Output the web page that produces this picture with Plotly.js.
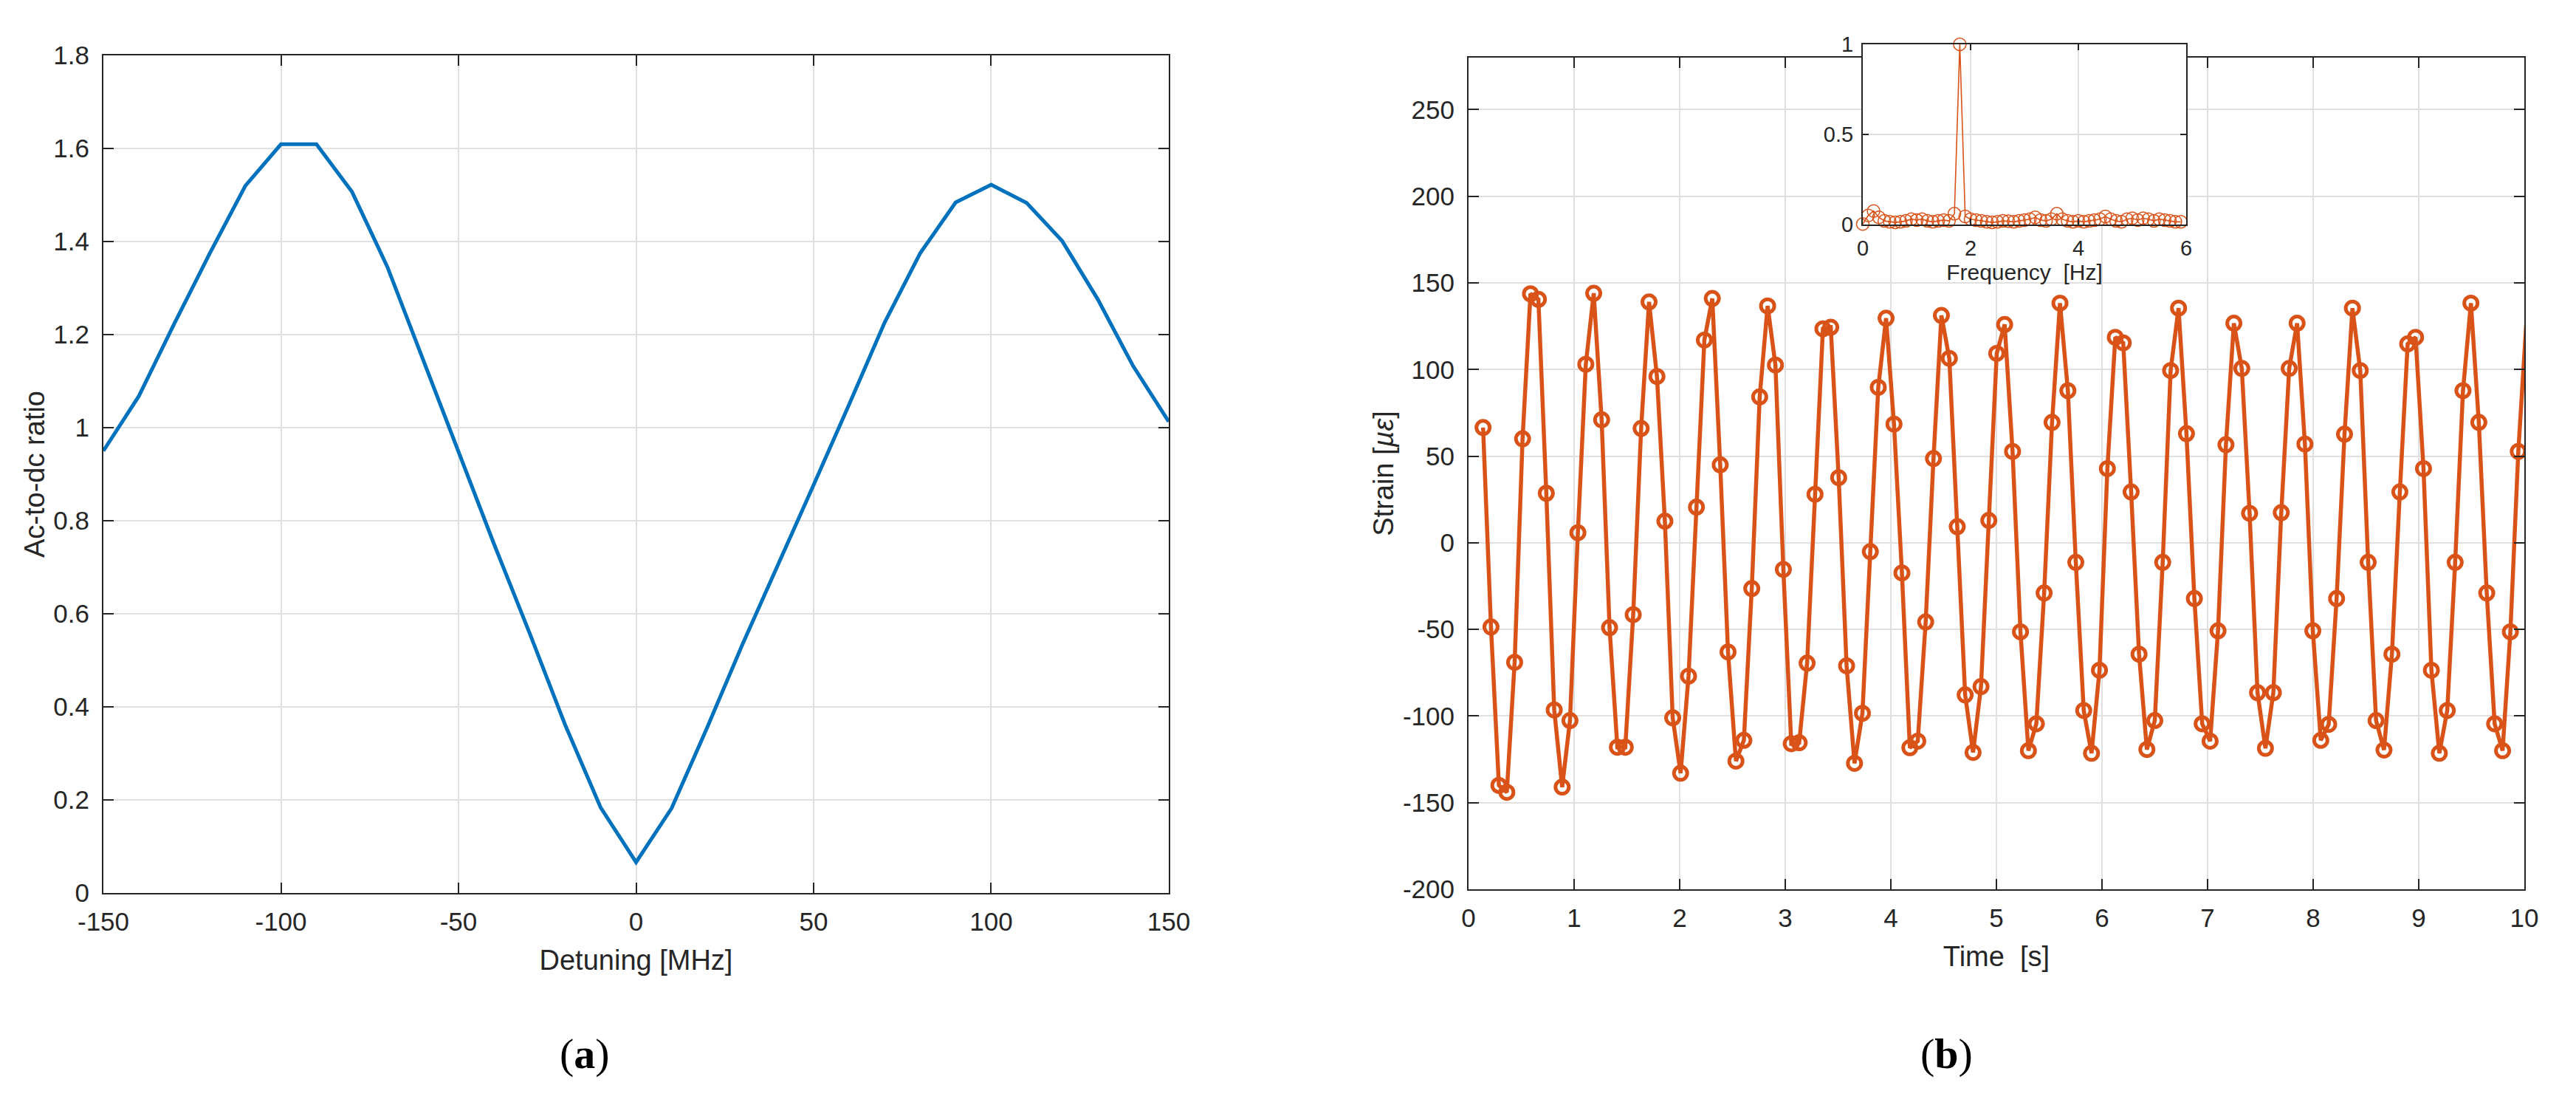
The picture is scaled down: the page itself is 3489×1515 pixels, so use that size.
<!DOCTYPE html>
<html>
<head>
<meta charset="utf-8">
<script src="https://cdn.plot.ly/plotly-3.0.1.min.js"></script>
<style>
  html, body { margin: 0; padding: 0; background: #ffffff; }
  #chart { width: 3489px; height: 1515px; }
</style>
</head>
<body>
<div id="chart"></div>
<script>
// ---------- Panel (a): Ac-to-dc ratio vs detuning ----------
var detuningMHz = [-150, -140, -130, -120, -110, -100, -90, -80, -70, -60, -50,
                   -40, -30, -20, -10, 0, 10, 20, 30, 40, 50,
                   60, 70, 80, 90, 100, 110, 120, 130, 140, 150];
var acToDcRatio = [0.950, 1.068, 1.224, 1.375, 1.520, 1.609, 1.609, 1.507, 1.345, 1.146, 0.947,
                   0.750, 0.559, 0.362, 0.184, 0.066, 0.182, 0.355, 0.535, 0.705, 0.877,
                   1.050, 1.226, 1.375, 1.484, 1.522, 1.483, 1.401, 1.276, 1.132, 1.013];
var detuningTicks = [-150, -100, -50, 0, 50, 100, 150];
var detuningTickText = ['-150', '-100', '-50', '0', '50', '100', '150'];

// ---------- Panel (b): strain time series ----------
var timeS = [0.138, 0.213, 0.288, 0.363, 0.437, 0.512, 0.587, 0.662, 0.737, 0.812,
             0.887, 0.961, 1.036, 1.111, 1.186, 1.261, 1.336, 1.410, 1.485, 1.560,
             1.635, 1.710, 1.785, 1.860, 1.934, 2.009, 2.084, 2.159, 2.234, 2.309,
             2.384, 2.458, 2.533, 2.608, 2.683, 2.758, 2.833, 2.907, 2.982, 3.057,
             3.132, 3.207, 3.282, 3.357, 3.431, 3.506, 3.581, 3.656, 3.731, 3.806,
             3.881, 3.955, 4.030, 4.105, 4.180, 4.255, 4.330, 4.404, 4.479, 4.554,
             4.629, 4.704, 4.779, 4.854, 4.928, 5.003, 5.078, 5.153, 5.228, 5.303,
             5.378, 5.452, 5.527, 5.602, 5.677, 5.752, 5.827, 5.901, 5.976, 6.051,
             6.126, 6.201, 6.276, 6.351, 6.425, 6.500, 6.575, 6.650, 6.725, 6.800,
             6.875, 6.949, 7.024, 7.099, 7.174, 7.249, 7.324, 7.398, 7.473, 7.548,
             7.623, 7.698, 7.773, 7.848, 7.922, 7.997, 8.072, 8.147, 8.222, 8.297,
             8.372, 8.446, 8.521, 8.596, 8.671, 8.746, 8.821, 8.895, 8.970, 9.045,
             9.120, 9.195, 9.270, 9.345, 9.419, 9.494, 9.569, 9.644, 9.719, 9.794,
             9.868, 9.943, 10.018];
var strainMicro = [66.5, -48.6, -140, -144, -69, 60, 143.7, 140.5, 28.6, -96.5,
                   -141, -102.6, 5.8, 103, 144, 71, -49, -118, -118, -41.5,
                   66, 139, 96, 12.5, -101, -133, -77, 20.6, 117, 141,
                   45, -63, -126, -114, -26.4, 84.2, 136.7, 102.6, -15.4, -116,
                   -115.4, -69.5, 28, 123.5, 124.4, 37.6, -71, -127.3, -98.4, -5.1,
                   89.7, 129.6, 68.5, -17.4, -118.3, -114.5, -45.7, 48.6, 131.2, 106.4,
                   9.3, -87.8, -121, -83, 12.9, 109.3, 126, 52.7, -51.4, -120,
                   -104.5, -29, 69.5, 138.3, 87.8, -11.3, -96.8, -121.5, -73.6, 42.8,
                   118.6, 115.4, 29.3, -64.3, -119.3, -102.6, -11.3, 99.4, 135.4, 63,
                   -32.2, -104.5, -114.5, -50.8, 56.6, 126.7, 100.6, 17, -86.5, -118.6,
                   -86.5, 17.4, 100.6, 126.7, 57, -50.8, -114, -104.8, -32.2, 62.7,
                   135.4, 99.4, -11.3, -102.6, -119.6, -64.3, 29.3, 114.8, 118.6, 42.8,
                   -73.6, -121.5, -96.8, -11.3, 87.8, 138.3, 69.5, -29, -104.5, -120,
                   -51.4, 52.7, 126];
var strainTicks = [-200, -150, -100, -50, 0, 50, 100, 150, 200, 250];
var strainTickText = ['-200', '-150', '-100', '-50', '0', '50', '100', '150', '200', '250'];

// ---------- Inset: normalised spectrum ----------
var freqHz = [0.0, 0.1, 0.2, 0.3, 0.4, 0.5, 0.6, 0.7, 0.8, 0.9,
              1.0, 1.1, 1.2, 1.3, 1.4, 1.5, 1.6, 1.7, 1.8, 1.9,
              2.0, 2.1, 2.2, 2.3, 2.4, 2.5, 2.6, 2.7, 2.8, 2.9,
              3.0, 3.1, 3.2, 3.3, 3.4, 3.5, 3.6, 3.7, 3.8, 3.9,
              4.0, 4.1, 4.2, 4.3, 4.4, 4.5, 4.6, 4.7, 4.8, 4.9,
              5.0, 5.1, 5.2, 5.3, 5.4, 5.5, 5.6, 5.7, 5.8, 5.9];
var spectrumNorm = [0.003, 0.050, 0.075, 0.040, 0.020, 0.015, 0.012, 0.015, 0.020, 0.030,
                    0.025, 0.030, 0.020, 0.015, 0.020, 0.025, 0.020, 0.060, 1.000, 0.045,
                    0.030, 0.025, 0.020, 0.015, 0.012, 0.015, 0.020, 0.018, 0.015, 0.020,
                    0.025, 0.030, 0.040, 0.025, 0.020, 0.030, 0.060, 0.030, 0.020, 0.015,
                    0.020, 0.015, 0.020, 0.025, 0.030, 0.045, 0.030, 0.020, 0.015, 0.030,
                    0.035, 0.025, 0.035, 0.030, 0.020, 0.030, 0.025, 0.020, 0.015, 0.015];

var blue = '#0072BD';
var orange = '#D95319';
var ink = '#262626';
var gridCol = '#e0e0e0';
var fontFam = '"Liberation Sans", Arial, Helvetica, sans-serif';

// markers whose sample lies beyond the 10 s axis limit are hidden (the line is clipped at the edge)
var strainMarkerOpacity = timeS.map(function (t) { return t > 10 ? 0 : 1; });

var traces = [
  {
    x: detuningMHz, y: acToDcRatio, type: 'scatter', mode: 'lines',
    line: {color: blue, width: 5},
    xaxis: 'x', yaxis: 'y', hoverinfo: 'skip'
  },
  {
    x: timeS, y: strainMicro, type: 'scatter', mode: 'lines+markers',
    line: {color: orange, width: 5.5},
    marker: {symbol: 'circle-open', size: 18, color: orange, opacity: strainMarkerOpacity,
             line: {color: orange, width: 5}},
    xaxis: 'x2', yaxis: 'y2', hoverinfo: 'skip'
  },
  {
    x: freqHz, y: spectrumNorm, type: 'scatter', mode: 'lines+markers',
    line: {color: orange, width: 1.6},
    marker: {symbol: 'circle-open', size: 17, color: orange, line: {color: orange, width: 1.5}},
    cliponaxis: false,
    xaxis: 'x3', yaxis: 'y3', hoverinfo: 'skip'
  }
];

function axisBase(extra) {
  var a = {
    showline: true, linecolor: ink, linewidth: 2, mirror: 'ticks',
    ticks: 'inside', ticklen: 14, tickwidth: 2, tickcolor: ink,
    showgrid: true, gridcolor: gridCol, gridwidth: 2,
    zeroline: false, fixedrange: true,
    tickfont: {family: fontFam, size: 35, color: ink},
    automargin: false
  };
  for (var k in extra) a[k] = extra[k];
  return a;
}

var layout = {
  width: 3489, height: 1515,
  margin: {l: 0, r: 0, t: 0, b: 0, pad: 0},
  paper_bgcolor: '#ffffff', plot_bgcolor: '#ffffff',
  showlegend: false,
  font: {family: fontFam, color: ink},
  xaxis: axisBase({
    domain: [0.04013, 0.45371], range: [-150, 150],
    tickmode: 'array', tickvals: detuningTicks, ticktext: detuningTickText,
    anchor: 'y', ticklabelstandoff: 7,
    title: {text: 'Detuning [MHz]', font: {family: fontFam, size: 38, color: ink}, standoff: 20}
  }),
  yaxis: axisBase({
    domain: [0.20198, 0.95050], range: [0, 1.8], tick0: 0, dtick: 0.2,
    anchor: 'x', ticklabelstandoff: 10,
    title: {text: 'Ac-to-dc ratio', font: {family: fontFam, size: 38, color: ink}, standoff: 0}
  }),
  xaxis2: axisBase({
    domain: [0.57007, 0.97994], range: [0, 10], tick0: 0, dtick: 1,
    anchor: 'y2', ticklabelstandoff: 7,
    title: {text: 'Time  [s]', font: {family: fontFam, size: 38, color: ink}, standoff: 20}
  }),
  yaxis2: axisBase({
    domain: [0.20528, 0.94851], range: [-200, 280],
    tickmode: 'array', tickvals: strainTicks, ticktext: strainTickText,
    anchor: 'x2', ticklabelstandoff: 10,
    title: {text: 'Strain [<i>µε</i>]', font: {family: fontFam, size: 38, color: ink}, standoff: 1}
  }),
  xaxis3: axisBase({
    domain: [0.72313, 0.84867], range: [0, 6], tick0: 0, dtick: 2,
    anchor: 'y3', ticklen: 8, ticklabelstandoff: 5,
    tickfont: {family: fontFam, size: 29, color: ink},
    title: {text: 'Frequency  [Hz]', font: {family: fontFam, size: 30, color: ink}, standoff: 6}
  }),
  yaxis3: axisBase({
    domain: [0.79934, 0.96040], range: [0, 1], tick0: 0, dtick: 0.5,
    anchor: 'x3', ticklen: 8, ticklabelstandoff: 5,
    tickfont: {family: fontFam, size: 29, color: ink}
  }),
  annotations: [
    {text: '(<b>a</b>)', xref: 'paper', yref: 'paper', x: 0.2270, y: 0.0587,
     xanchor: 'center', yanchor: 'middle', showarrow: false,
     font: {family: '"Liberation Serif", "Times New Roman", serif', size: 58, color: '#000000'}},
    {text: '(<b>b</b>)', xref: 'paper', yref: 'paper', x: 0.7558, y: 0.0587,
     xanchor: 'center', yanchor: 'middle', showarrow: false,
     font: {family: '"Liberation Serif", "Times New Roman", serif', size: 58, color: '#000000'}}
  ]
};

Plotly.newPlot('chart', traces, layout, {staticPlot: true, displayModeBar: false});
</script>
</body>
</html>
